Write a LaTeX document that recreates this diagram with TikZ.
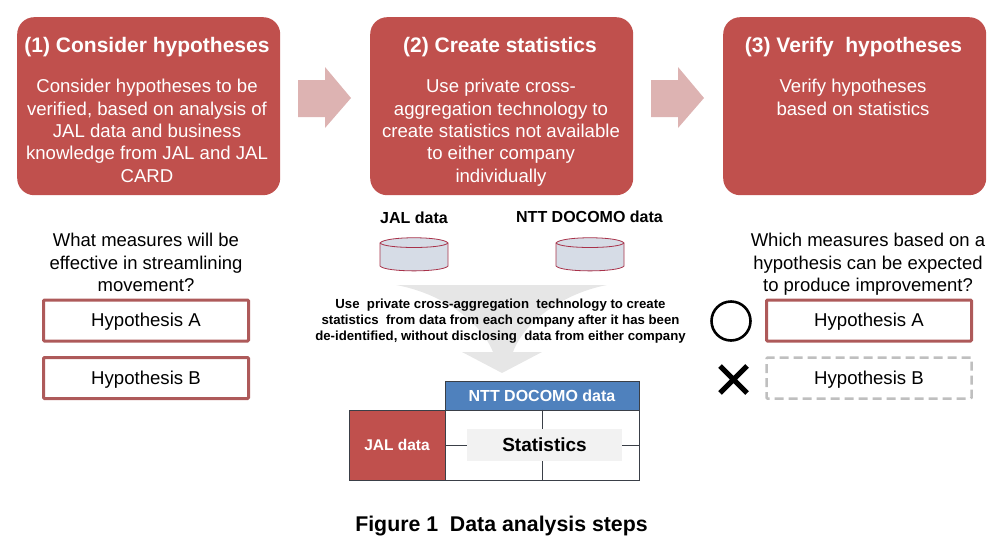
\documentclass[tikz,border=0pt]{standalone}
\usepackage{fontspec}
\setmainfont{Liberation Sans}
\definecolor{jalred}{HTML}{C0504D}
\definecolor{arrowpink}{HTML}{DDB3B2}
\definecolor{hypred}{HTML}{AE5A5A}
\definecolor{dashgray}{HTML}{BFBFBF}
\definecolor{arrowgray}{HTML}{E6E6E6}
\definecolor{cylfill}{HTML}{D6DCE6}
\definecolor{cylline}{HTML}{A8324A}
\definecolor{docomoblue}{HTML}{4F81BD}
\definecolor{gridline}{HTML}{3A3F47}
\definecolor{statgray}{HTML}{F2F2F2}
\tikzset{
 stepcard/.style={fill=jalred,rounded corners=17pt,inner sep=0pt,minimum width=263pt,minimum height=178pt,anchor=north west},
 stephead/.style={text=white,font=\fontsize{21}{25}\selectfont\bfseries,inner sep=0pt},
 stepbody/.style={text=white,font=\fontsize{18.6}{22.4}\selectfont,align=center,inner sep=0pt},
 question/.style={font=\fontsize{18.5}{22.5}\selectfont,align=center,inner sep=0pt},
 hypbox/.style={draw=hypred,line width=3pt,rounded corners=1pt,minimum width=205pt,minimum height=41pt,inner sep=0pt,text height=16.4pt,text depth=4pt,font=\fontsize{18.6}{22}\selectfont},
 hypdash/.style={hypbox,draw=dashgray,line width=2.5pt,dash pattern=on 9pt off 5pt},
 flowarrow/.style={fill=arrowpink,draw=none},
 datalabel/.style={font=\fontsize{16}{19}\selectfont\bfseries,inner sep=0pt},
 cyl/.style={draw=cylline,fill=cylfill,line width=0.8pt},
 tcell/.style={draw=gridline,line width=1pt,inner sep=0pt},
}
\begin{document}
\begin{tikzpicture}[x=1pt,y=-1pt]
\useasboundingbox (0,0) rectangle (1003,549);
% step cards
\node[stepcard] (c1) at (17,17) {};
\node[stepcard] (c2) at (370,17) {};
\node[stepcard] (c3) at (723,17) {};
\node[stephead] (h1) at (147,47) {(1) Consider hypotheses};
\node[stephead] (h2) at (500,47) {(2) Create statistics};
\node[stephead] (h3) at (853.5,47) {(3) Verify\ \ hypotheses};
\node[stepbody,anchor=north] (b1) at (147,79) {Consider hypotheses to be\\verified, based on analysis of\\JAL data and business\\knowledge from JAL and JAL\\CARD};
\node[stepbody,anchor=north] (b2) at (501,79) {Use private cross-\\aggregation technology to\\create statistics not available\\to either company\\individually};
\node[stepbody,anchor=north] (b3) at (853,79) {Verify hypotheses\\based on statistics};
% flow arrows
\fill[flowarrow] (298,80) -- (325,80) -- (325,67) -- (351,98) -- (325,128) -- (325,117) -- (298,117) -- cycle;
\fill[flowarrow] (651,80) -- (678,80) -- (678,67) -- (704,98) -- (678,128) -- (678,117) -- (651,117) -- cycle;
% left column
\node[question] (q1) at (146,262.5) {What measures will be\\effective in streamlining\\movement?};
\node[hypbox] (ha1) at (146,320.5) {Hypothesis A};
\node[hypbox] (hb1) at (146,378) {Hypothesis B};
% right column
\node[question] (q3) at (868,264.5) {Which measures based on a\\hypothesis can be expected\\to produce improvement?};
\node[hypbox] (ha3) at (869,320.5) {Hypothesis A};
\node[hypdash] (hb3) at (869,378) {Hypothesis B};
\draw[line width=2.6pt] (731,321) circle (19.5);
\draw[line width=5pt] (720,366) -- (747,393) (747,366) -- (720,393);
% centre data
\node[datalabel] (d1) at (414,217.5) {JAL data};
\node[datalabel] (d2) at (589.5,216.5) {NTT DOCOMO data};
\draw[cyl] (380,243) -- (380,266) .. controls (385,272.5) and (443,272.5) .. (448,266) -- (448,243) .. controls (443,236) and (385,236) .. (380,243) -- cycle;
\draw[cyl] (380,243) .. controls (385,249) and (443,249) .. (448,243);
\draw[cyl] (556,243) -- (556,266) .. controls (561,272.5) and (619,272.5) .. (624,266) -- (624,243) .. controls (619,236) and (561,236) .. (556,243) -- cycle;
\draw[cyl] (556,243) .. controls (561,249) and (619,249) .. (624,243);
% big arrow
\fill[arrowgray] (396,285) -- (607,285) .. controls (565,293) and (525,320) .. (513,352) -- (542,352) -- (502,373) -- (462,352) -- (493,352) .. controls (480,320) and (440,293) .. (396,285) -- cycle;
\node[font=\fontsize{13.2}{16.2}\selectfont\bfseries,align=center,inner sep=0pt] (t) at (500.5,321) {Use\ \ private cross-aggregation\ \ technology to\ create\\statistics\ \ from data from each company after it has been\\de-identified, without disclosing\ \ data from either company};
% table
\node[tcell,fill=docomoblue,minimum width=194pt,minimum height=29pt,text=white,font=\fontsize{16}{19}\selectfont\bfseries] (tb) at (542,395.5) {NTT DOCOMO data};
\node[tcell,fill=jalred,minimum width=96pt,minimum height=70pt,text=white,font=\fontsize{15.5}{19}\selectfont\bfseries] (tj) at (397,445) {JAL data};
\node[tcell,minimum width=194pt,minimum height=70pt] (tg) at (542,445) {};
\draw[gridline,line width=1pt] (tg.north) -- (tg.south) (tg.west) -- (tg.east);
\node[fill=statgray,minimum width=155pt,minimum height=32pt,inner sep=0pt,font=\fontsize{19}{22}\selectfont\bfseries] (ts) at (544.5,445) {Statistics};
% caption
\node[font=\fontsize{21.3}{25}\selectfont\bfseries,inner sep=0pt] (cap) at (501.5,526) {Figure 1\ \ Data analysis steps};
\end{tikzpicture}
\end{document}
